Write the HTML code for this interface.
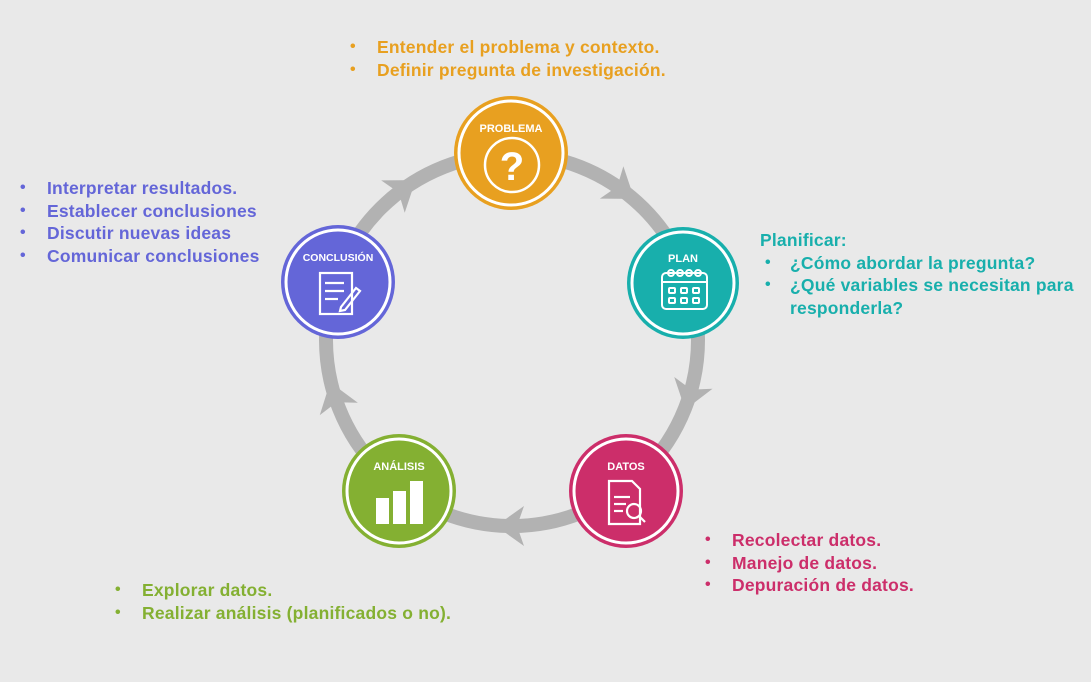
<!DOCTYPE html>
<html><head><meta charset="utf-8"><style>
body{margin:0;width:1091px;height:682px;background:#e9e9e9;overflow:hidden;position:relative;font-family:"Liberation Sans",sans-serif}
.t{position:absolute;font-weight:bold;font-size:17.5px;line-height:22.7px;white-space:nowrap;letter-spacing:0.2px}
.t div{position:relative;padding-left:27px}
.t div.b:before{content:"•";position:absolute;left:0;font-size:16px}
svg{position:absolute;left:0;top:0}
</style></head><body>
<svg width="1091" height="682">
<defs>
<polygon id="ar" points="16,0 -12,-20 -5,0 -12,20" fill="#b2b2b2"/>
</defs>
<circle cx="512" cy="340" r="186" fill="none" stroke="#b2b2b2" stroke-width="14"/>
<g transform="translate(512,340)">
<use href="#ar" transform="rotate(-54) translate(186,0) rotate(90)"/>
<use href="#ar" transform="rotate(17) translate(186,0) rotate(90)"/>
<use href="#ar" transform="rotate(90) translate(186,0) rotate(90)"/>
<use href="#ar" transform="rotate(162) translate(186,0) rotate(90)"/>
<use href="#ar" transform="rotate(234) translate(186,0) rotate(90)"/>
</g>
<g font-family="Liberation Sans,sans-serif" font-weight="bold" font-size="11" fill="#fff" text-anchor="middle">
<circle cx="511" cy="153" r="57" fill="#e8a020"/>
<circle cx="511" cy="153" r="52" fill="none" stroke="#fff" stroke-width="3"/>
<text x="511" y="132">PROBLEMA</text>
<circle cx="512" cy="165" r="27" fill="none" stroke="#fff" stroke-width="2.5"/>
<text x="512" y="180" font-size="40">?</text>
<circle cx="683" cy="283" r="56" fill="#18afac"/>
<circle cx="683" cy="283" r="51" fill="none" stroke="#fff" stroke-width="3"/>
<text x="683" y="262">PLAN</text>
<g fill="none" stroke="#fff" stroke-width="2">
<rect x="662" y="273" width="45" height="36" rx="4"/>
<line x1="662" y1="282" x2="707" y2="282"/>
<circle cx="671" cy="273" r="3"/><circle cx="680" cy="273" r="3"/><circle cx="689" cy="273" r="3"/><circle cx="698" cy="273" r="3"/>
<rect x="669" y="288" width="6" height="5" rx="1"/><rect x="681" y="288" width="6" height="5" rx="1"/><rect x="693" y="288" width="6" height="5" rx="1"/>
<rect x="669" y="298" width="6" height="5" rx="1"/><rect x="681" y="298" width="6" height="5" rx="1"/><rect x="693" y="298" width="6" height="5" rx="1"/>
</g>
<circle cx="626" cy="491" r="57" fill="#cc2e6a"/>
<circle cx="626" cy="491" r="52" fill="none" stroke="#fff" stroke-width="3"/>
<text x="626" y="470">DATOS</text>
<g fill="none" stroke="#fff" stroke-width="2.2">
<path d="M609 481 H632 L640 489 V524 H609 Z"/>
<line x1="614" y1="497" x2="630" y2="497"/><line x1="614" y1="504" x2="626" y2="504"/><line x1="614" y1="511" x2="623" y2="511"/>
<circle cx="634" cy="511" r="7"/><line x1="639" y1="516" x2="645" y2="522"/>
</g>
<circle cx="399" cy="491" r="57" fill="#84b032"/>
<circle cx="399" cy="491" r="52" fill="none" stroke="#fff" stroke-width="3"/>
<text x="399" y="470">ANÁLISIS</text>
<rect x="376" y="498" width="13" height="26"/><rect x="393" y="491" width="13" height="33"/><rect x="410" y="481" width="13" height="43"/>
<circle cx="338" cy="282" r="57" fill="#6466d8"/>
<circle cx="338" cy="282" r="52" fill="none" stroke="#fff" stroke-width="3"/>
<text x="338" y="261" font-size="10.5">CONCLUSIÓN</text>
<g fill="none" stroke="#fff" stroke-width="2.2">
<rect x="320" y="273" width="32" height="41"/>
<line x1="325" y1="283" x2="344" y2="283"/><line x1="325" y1="291" x2="344" y2="291"/><line x1="325" y1="299" x2="338" y2="299"/>
<path d="M341 307 L356 288 L360 291 L345 310 L340 311 Z"/>
</g>
</g>
</svg>
<div class="t" style="left:350px;top:36px;color:#e8a020"><div class="b">Entender el problema y contexto.</div><div class="b">Definir pregunta de investigación.</div></div>
<div class="t" style="left:20px;top:177px;color:#6466d8"><div class="b">Interpretar resultados.</div><div class="b">Establecer conclusiones</div><div class="b">Discutir nuevas ideas</div><div class="b">Comunicar conclusiones</div></div>
<div class="t" style="left:760px;top:229px;color:#18afac"><div style="padding-left:0">Planificar:</div><div class="b" style="left:5px;padding-left:25px">¿Cómo abordar la pregunta?</div><div class="b" style="left:5px;padding-left:25px">¿Qué variables se necesitan para<br>responderla?</div></div>
<div class="t" style="left:705px;top:529px;color:#cc2e6a"><div class="b">Recolectar datos.</div><div class="b">Manejo de datos.</div><div class="b">Depuración de datos.</div></div>
<div class="t" style="left:115px;top:579px;color:#84b032"><div class="b">Explorar datos.</div><div class="b">Realizar análisis (planificados o no).</div></div>
</body></html>
